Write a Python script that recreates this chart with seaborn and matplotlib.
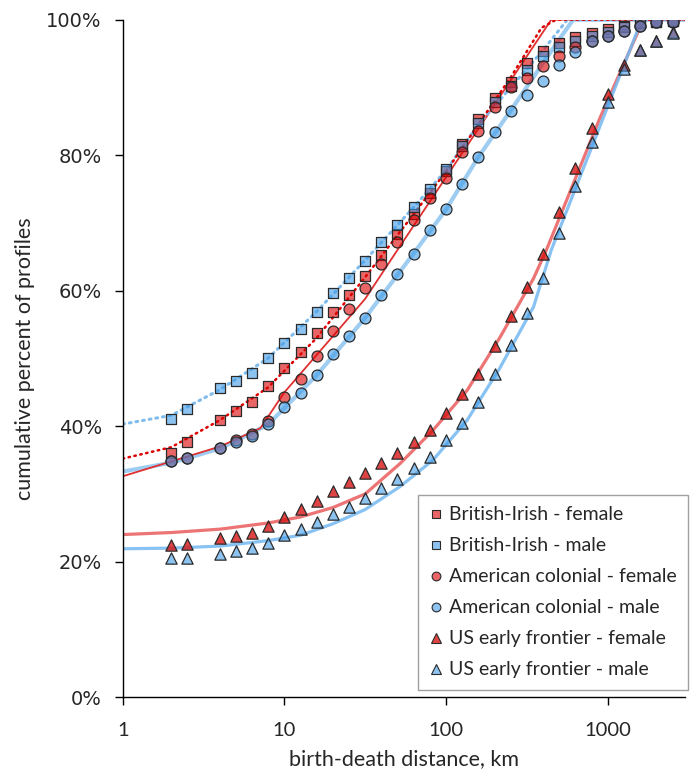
import numpy as np
import pandas as pd
import matplotlib
matplotlib.use("Agg")
import matplotlib.pyplot as plt
import seaborn as sns
from matplotlib.lines import Line2D
from matplotlib.ticker import FixedLocator, NullLocator, FuncFormatter

sns.set_theme(style="white")
plt.rcParams['font.family'] = ['Lato', 'DejaVu Sans']

# ---------------- data ----------------
distance_km = [2, 2.5, 4, 5, 6.3, 7.9, 10, 12.6, 15.8, 20, 25, 31.6, 39.8, 50, 63, 79,
               100, 126, 158, 200, 251, 316, 398, 501, 631, 794, 1000, 1259, 1585, 1995, 2512]

british_irish_female = [36.0, 37.7, 40.9, 42.2, 43.5, 45.9, 48.6, 51.0, 53.8, 56.8, 59.3, 62.2, 65.3, 68.4,
                        71.3, 74.4, 77.6, 81.6, 85.3, 88.5, 90.8, 93.6, 95.4, 96.5, 97.4, 98.1, 98.6,
                        99.0, 99.6, 99.7, 99.85]
british_irish_male = [41.0, 42.5, 45.6, 46.7, 47.9, 50.0, 52.3, 54.4, 56.9, 59.6, 61.8, 64.4, 67.2, 69.7,
                      72.3, 75.0, 77.9, 81.3, 84.8, 87.8, 90.2, 92.5, 94.6, 95.9, 96.8, 97.6, 98.2,
                      98.9, 99.5, 99.6, 99.8]
american_colonial_female = [34.8, 35.3, 36.8, 38.0, 38.8, 40.8, 44.3, 47.0, 50.3, 54.1, 57.3, 60.4, 64.0,
                            67.2, 70.4, 73.7, 76.7, 80.4, 83.5, 87.1, 90.0, 91.4, 93.1, 94.6, 96.0,
                            96.9, 97.6, 98.3, 99.1, 99.6, 99.6]
american_colonial_male = [34.8, 35.3, 36.8, 37.6, 38.5, 40.3, 42.9, 44.9, 47.6, 50.7, 53.3, 55.9, 59.3,
                          62.4, 65.4, 68.9, 72.0, 75.7, 79.7, 83.4, 86.5, 88.9, 91.0, 93.3, 95.2,
                          96.9, 97.6, 98.3, 99.1, 99.6, 99.6]
us_frontier_female = [22.5, 22.6, 23.5, 23.8, 24.2, 25.2, 26.6, 27.7, 28.9, 30.4, 31.7, 33.1, 34.6, 36.1,
                      37.7, 39.4, 41.9, 44.7, 47.7, 51.8, 56.2, 60.6, 65.4, 71.6, 78.1, 84.0, 89.0,
                      93.3, 95.5, 96.8, 98.2]
us_frontier_male = [20.5, 20.6, 21.2, 21.6, 22.0, 22.8, 23.9, 24.8, 25.8, 27.0, 28.1, 29.4, 30.9, 32.2,
                    33.8, 35.5, 37.9, 40.4, 43.6, 47.7, 52.0, 56.7, 61.8, 68.5, 75.5, 82.0, 87.9,
                    92.7, 95.5, 96.8, 98.1]

# fitted trend lines
fit_bi_female_x = [1, 2, 4, 7.9, 15.8, 31.6, 63, 100, 158, 251, 389, 479, 3000]
fit_bi_female_y = [35.2, 36.9, 40.9, 45.7, 53.0, 62.0, 71.3, 77.6, 84.5, 91.5, 98.8, 100, 100]
fit_bi_male_x = [1, 2, 4, 7.9, 15.8, 31.6, 63, 100, 158, 251, 398, 562, 3000]
fit_bi_male_y = [40.3, 41.6, 45.4, 50.0, 56.9, 64.5, 72.3, 77.8, 84.5, 90.0, 95.5, 100, 100]
fit_ac_female_x = [1, 2, 4, 7.1, 10, 31.6, 50, 447, 3000]
fit_ac_female_y = [32.6, 34.8, 37.0, 39.7, 45.0, 58.8, 66.0, 100, 100]
fit_ac_male_x = [1, 2, 4, 7.9, 15.8, 31.6, 63, 100, 158, 251, 398, 501, 611, 3000]
fit_ac_male_y = [33.3, 34.6, 36.7, 40.2, 47.5, 56.0, 65.5, 72.0, 79.7, 86.6, 93.6, 97.1, 100, 100]
fit_us_female_x = [1, 2, 4, 7.9, 12.6, 20, 31.6, 52, 83, 135, 214, 347, 417, 891, 1660, 3000]
fit_us_female_y = [24.0, 24.3, 24.8, 25.7, 26.6, 28.0, 30.0, 34.5, 39.4, 45.3, 53.0, 61.8, 66.0, 85.4, 100, 100]
fit_us_male_x = [1, 2, 4, 7.9, 12.6, 20, 31.6, 52, 83, 135, 214, 347, 447, 933, 1622, 3000]
fit_us_male_y = [21.9, 22.0, 22.3, 23.1, 23.9, 25.6, 27.7, 31.1, 35.0, 40.9, 48.5, 57.6, 66.0, 85.4, 100, 100]

labels = ["British-Irish - female", "British-Irish - male", "American colonial - female",
          "American colonial - male", "US early frontier - female", "US early frontier - male"]
y_ticks = [0, 20, 40, 60, 80, 100]
x_ticks = [1, 10, 100, 1000]

# ---------------- style ----------------
RED = (0.863, 0.0, 0.0, 0.6)
RED_T = (0.85, 0.08, 0.08, 0.8)
BLUE = (0.247, 0.608, 0.902, 0.6)
EDGE = "#2a2a2a"

fig = plt.figure(figsize=(6.94, 7.80), dpi=100)
ax = fig.add_axes([0.1768, 0.1062, 0.8102, 0.8686])

# trend lines
sns.lineplot(x=fit_us_female_x, y=fit_us_female_y, ax=ax, color="#ec7474", lw=2.3, zorder=2, sort=False)
sns.lineplot(x=fit_us_male_x, y=fit_us_male_y, ax=ax, color=(0.45, 0.72, 0.95, 0.85), lw=2.3, zorder=2, sort=False)
sns.lineplot(x=fit_ac_male_x, y=fit_ac_male_y, ax=ax, color="#9fcdf2", lw=3.0, zorder=2, sort=False)
sns.lineplot(x=fit_ac_female_x, y=fit_ac_female_y, ax=ax, color="#e03030", lw=1.3, zorder=2, sort=False)
sns.lineplot(x=fit_bi_male_x, y=fit_bi_male_y, ax=ax, color="#80bdee", lw=2.2, zorder=2, sort=False,
             linestyle=(0, (0.6, 1.6)), dash_capstyle="round")
sns.lineplot(x=fit_bi_female_x, y=fit_bi_female_y, ax=ax, color="#dd0000", lw=1.8, zorder=2, sort=False,
             linestyle=(0, (0.6, 1.8)), dash_capstyle="round")

series = [
    (british_irish_female, "s", RED, 62),
    (british_irish_male, "s", BLUE, 62),
    (american_colonial_female, "o", RED, 62),
    (american_colonial_male, "o", BLUE, 62),
    (us_frontier_female, "^", RED_T, 66),
    (us_frontier_male, "^", BLUE, 66),
]
for i, (vals, mk, col, s) in enumerate(series):
    sns.scatterplot(x=distance_km, y=vals, ax=ax, marker=mk, color=col, edgecolor=EDGE,
                    linewidth=0.9, s=s, zorder=3 + i, legend=False)

ax.set_xscale("log")
ax.set_xlim(1, 3000)
ax.set_ylim(0, 100)
ax.xaxis.set_major_locator(FixedLocator(x_ticks))
ax.xaxis.set_minor_locator(NullLocator())
ax.xaxis.set_major_formatter(FuncFormatter(lambda v, p: f"{v:g}"))
ax.yaxis.set_major_locator(FixedLocator(y_ticks))
ax.yaxis.set_major_formatter(FuncFormatter(lambda v, p: f"{v:.0f}%"))

for side in ["top", "right"]:
    ax.spines[side].set_visible(False)
for side in ["left", "bottom"]:
    ax.spines[side].set_color("black")
    ax.spines[side].set_linewidth(1.0)
ax.tick_params(axis="both", which="major", direction="out", length=6, width=1, color="black",
               bottom=True, left=True)
ax.tick_params(axis="x", labelsize=14.5, pad=12)
ax.tick_params(axis="y", labelsize=14, pad=9)
for t in ax.get_yticklabels():
    t.set_fontfamily("DejaVu Sans")
ax.set_xlabel("birth-death distance, km", fontsize=15.5, labelpad=7)
ax.set_ylabel("cumulative percent of profiles", fontsize=15.5, labelpad=8)
ax.grid(False)

handles = [Line2D([], [], linestyle="none", marker=mk, markersize=6.3 if mk != "^" else 6.8,
                  markerfacecolor=col, markeredgecolor=EDGE, markeredgewidth=0.8)
           for (_, mk, col, _) in series]
leg = ax.legend(handles, labels, loc="lower right", bbox_to_anchor=(1.0055, 0.0106),
                frameon=True, fancybox=False, fontsize=14, labelspacing=0.72,
                handlelength=0.7, handletextpad=0.3, borderpad=0.6, borderaxespad=0)
leg.get_frame().set_edgecolor("#888888")
leg.get_frame().set_linewidth(1.0)

fig.savefig("out.png", dpi=100)
